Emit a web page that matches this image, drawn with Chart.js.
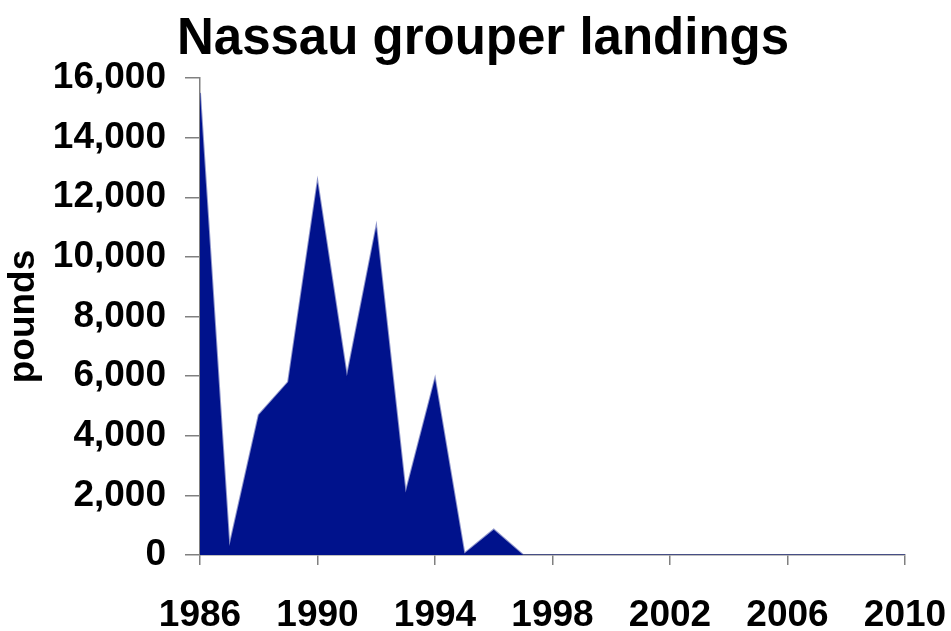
<!DOCTYPE html>
<html>
<head>
<meta charset="utf-8">
<script src="https://cdn.jsdelivr.net/npm/chart.js@4/dist/chart.umd.min.js"></script>
<style>
html,body{margin:0;padding:0;background:#fff;}
#wrap{width:951px;height:631px;}
</style>
</head>
<body>
<div id="wrap"><canvas id="c" width="951" height="631"></canvas></div>
<script>
const years = [1986,1987,1988,1989,1990,1991,1992,1993,1994,1995,1996,1997,1998,1999,2000,2001,2002,2003,2004,2005,2006,2007,2008,2009,2010];
const landings = [15500,300,4700,5800,12500,6000,11000,2100,5900,50,850,0,0,0,0,0,0,0,0,0,0,0,0,0,0];
const yTicks = [0,2000,4000,6000,8000,10000,12000,14000,16000];
const xTicks = [1986,1990,1994,1998,2002,2006,2010];
const titleText = 'Nassau grouper landings';
const yTitle = 'pounds';

const FONT = "'Liberation Sans', Arial, sans-serif";
const navy = 'rgb(0,18,140)';

const titlePlugin = {
  id: 'centeredTitle',
  afterDraw(chart) {
    const ctx = chart.ctx;
    ctx.save();
    ctx.font = "bold 51px " + FONT;
    ctx.fillStyle = '#000';
    ctx.textAlign = 'center';
    ctx.textBaseline = 'alphabetic';
    ctx.fillText(titleText, 483, 54);
    ctx.restore();
  }
};

new Chart(document.getElementById('c'), {
  type: 'line',
  data: {
    datasets: [{
      data: years.map((y,i)=>({x:y, y:landings[i]})),
      fill: 'origin',
      backgroundColor: navy,
      borderColor: 'rgba(0,18,140,0.45)',
      borderWidth: 2,
      pointRadius: 0,
      tension: 0
    }]
  },
  plugins: [titlePlugin],
  options: {
    responsive: false,
    animation: false,
    devicePixelRatio: 1,
    layout: { padding: { left: 0, right: 46, top: 78, bottom: 0 } },
    plugins: {
      legend: { display: false },
      tooltip: { enabled: false },
      title: { display: false }
    },
    scales: {
      x: {
        type: 'linear',
        min: 1986, max: 2010,
        afterBuildTicks: (s) => { s.ticks = xTicks.map(v=>({value:v})); },
        ticks: {
          color: '#000',
          font: { family: FONT, size: 37, weight: 'bold' },
          padding: 29,
          maxRotation: 0,
          autoSkip: false,
          callback: (v) => String(v)
        },
        grid: { drawOnChartArea: false, color: '#808080', tickLength: 10, lineWidth: 1.5 },
        border: { color: '#808080', width: 1.5 },
        afterFit: (s) => { s.height = 76; s.paddingLeft = 0; s.paddingRight = 0; }
      },
      y: {
        min: 0, max: 16000,
        afterBuildTicks: (s) => { s.ticks = yTicks.map(v=>({value:v})); },
        ticks: {
          color: '#000',
          font: { family: FONT, size: 37, weight: 'bold' },
          padding: 19,
          callback: (v) => v.toLocaleString('en-US')
        },
        grid: { drawOnChartArea: false, color: '#808080', tickLength: 15, lineWidth: 1.5 },
        border: { color: '#808080', width: 1.5 },
        title: {
          display: true,
          text: yTitle,
          color: '#000',
          font: { family: FONT, size: 37, weight: 'bold' },
          padding: { top: 2, bottom: 4 }
        },
        afterFit: (s) => { s.width = 200; }
      }
    }
  }
});
</script>
</body>
</html>
